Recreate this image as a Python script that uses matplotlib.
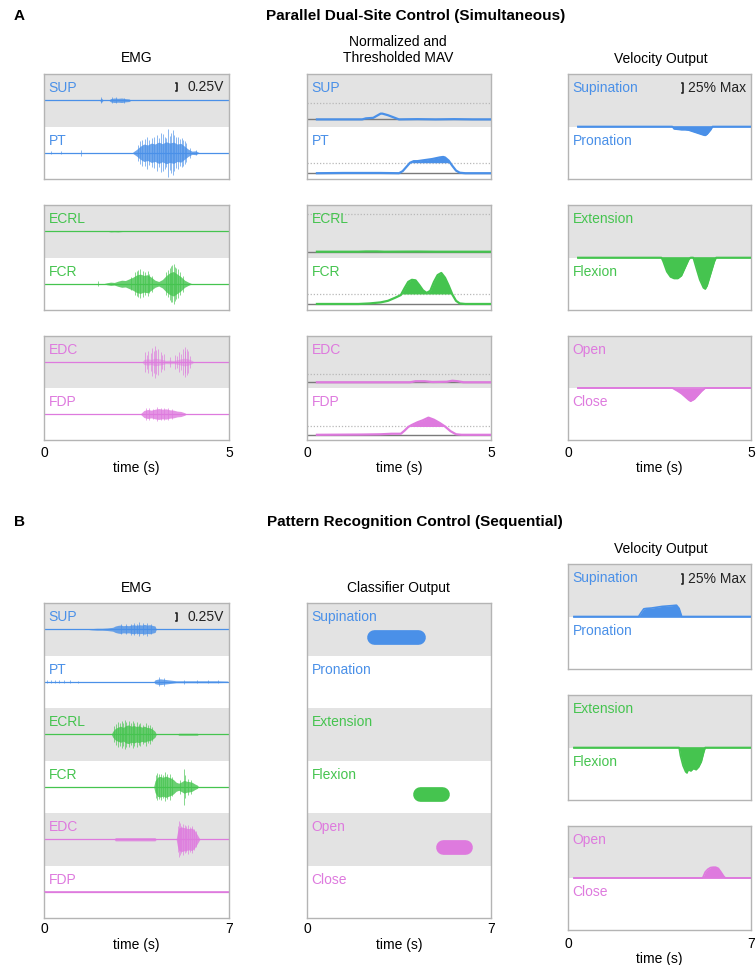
import numpy as np
import matplotlib.pyplot as plt
from matplotlib.transforms import blended_transform_factory

plt.rcParams['font.family'] = ['Liberation Sans', 'DejaVu Sans']

# ---------------- data ----------------
# panel A, raw EMG (time s, amplitude V): dense envelope + single spikes
sup_a_env_t = [1.50, 1.55, 1.60, 1.75, 1.80, 1.90, 2.00, 2.10, 2.20, 2.30, 2.35]
sup_a_env_v = [0.00, 0.07, 0.00, 0.00, 0.05, 0.07, 0.06, 0.07, 0.05, 0.04, 0.00]
sup_a_spk_t = [1.55, 1.85, 1.95, 2.15]
sup_a_spk_v = [0.10, 0.09, 0.10, 0.08]

pt_a_env_t = [2.40, 2.50, 2.60, 2.70, 2.80, 2.90, 3.00, 3.10, 3.20, 3.30, 3.40, 3.50,
              3.60, 3.70, 3.80, 3.90, 4.00, 4.10, 4.20]
pt_a_env_v = [0.02, 0.10, 0.20, 0.27, 0.24, 0.30, 0.27, 0.33, 0.28, 0.34, 0.30, 0.33,
              0.27, 0.29, 0.20, 0.11, 0.05, 0.06, 0.00]
pt_a_spk_t = [0.20, 0.45, 1.00, 2.55, 2.60, 2.65, 2.72, 2.78, 2.85, 2.92, 2.98, 3.05, 3.10,
              3.15, 3.22, 3.27, 3.31, 3.35, 3.40, 3.44, 3.48, 3.52, 3.57, 3.62, 3.67, 3.72,
              3.77, 3.80, 3.85, 3.95, 4.10]
pt_a_spk_v = [0.04, 0.04, 0.10, 0.25, 0.35, 0.40, 0.42, 0.50, 0.38, 0.45, 0.48, 0.55, 0.45,
              0.60, 0.58, 0.50, 0.45, 0.75, 0.52, 0.62, 0.70, 0.55, 0.48, 0.50, 0.42, 0.45,
              0.40, 0.35, 0.30, 0.15, 0.08]

ecrl_a_env_t = [1.70, 1.80, 1.90, 2.00, 2.10, 2.20]
ecrl_a_env_v = [0.00, 0.02, 0.015, 0.02, 0.01, 0.00]
ecrl_a_spk_t = []
ecrl_a_spk_v = []

fcr_a_env_t = [1.60, 1.70, 1.80, 1.90, 2.00, 2.10, 2.20, 2.30, 2.40, 2.50, 2.60, 2.70,
               2.80, 2.90, 3.00, 3.10, 3.20, 3.30, 3.40, 3.50, 3.60, 3.70, 3.80, 3.90, 4.00]
fcr_a_env_v = [0.00, 0.03, 0.05, 0.04, 0.08, 0.11, 0.10, 0.15, 0.20, 0.27, 0.30, 0.26,
               0.28, 0.20, 0.11, 0.07, 0.13, 0.25, 0.34, 0.38, 0.30, 0.22, 0.11, 0.05, 0.00]
fcr_a_spk_t = [1.47, 2.35, 2.45, 2.50, 2.55, 2.60, 2.68, 2.73, 2.80, 2.85, 2.92, 3.30, 3.35,
               3.40, 3.43, 3.47, 3.52, 3.55, 3.58, 3.62, 3.68, 3.75]
fcr_a_spk_v = [0.08, 0.20, 0.35, 0.38, 0.42, 0.45, 0.40, 0.35, 0.38, 0.30, 0.25, 0.35, 0.42,
               0.50, 0.55, 0.58, 0.62, 0.52, 0.48, 0.45, 0.35, 0.25]

edc_a_env_t = [2.65, 2.70, 2.80, 2.90, 3.00, 3.10, 3.20, 3.30, 3.40, 3.50, 3.60, 3.70,
               3.80, 3.90, 4.00, 4.05]
edc_a_env_v = [0.00, 0.08, 0.10, 0.08, 0.12, 0.10, 0.08, 0.05, 0.06, 0.05, 0.07, 0.10,
               0.12, 0.10, 0.05, 0.00]
edc_a_spk_t = [2.72, 2.78, 2.82, 2.88, 2.92, 2.96, 3.00, 3.04, 3.08, 3.15, 3.20, 3.25, 3.40,
               3.55, 3.60, 3.65, 3.70, 3.75, 3.80, 3.82, 3.86, 3.90, 3.95]
edc_a_spk_v = [0.30, 0.22, 0.35, 0.28, 0.45, 0.35, 0.50, 0.38, 0.42, 0.30, 0.22, 0.25, 0.15,
               0.22, 0.20, 0.30, 0.25, 0.42, 0.35, 0.48, 0.40, 0.35, 0.20]

fdp_a_env_t = [2.60, 2.70, 2.80, 2.90, 3.00, 3.10, 3.20, 3.30, 3.40, 3.50, 3.60, 3.70, 3.80, 3.85]
fdp_a_env_v = [0.00, 0.11, 0.14, 0.12, 0.15, 0.17, 0.15, 0.16, 0.13, 0.12, 0.09, 0.08, 0.04, 0.00]
fdp_a_spk_t = [2.75, 2.85, 2.95, 3.05, 3.15, 3.25, 3.35, 3.45]
fdp_a_spk_v = [0.18, 0.20, 0.17, 0.22, 0.19, 0.20, 0.18, 0.16]

# panel A, normalized MAV (band units above the zero line) and thresholds
sup_mav_t = [0.27, 1.50, 1.60, 1.80, 1.90, 2.00, 2.05, 2.20, 2.35, 2.50, 3.00, 3.50, 4.00, 4.50, 5.00]
sup_mav_v = [0.00, 0.00, 0.02, 0.03, 0.07, 0.11, 0.11, 0.08, 0.04, 0.00, 0.005, 0.00, 0.005, 0.00, 0.00]
pt_mav_t = [0.27, 1.00, 2.00, 2.50, 2.60, 2.70, 2.80, 2.90, 3.00, 3.20, 3.40, 3.60, 3.70,
            3.75, 3.85, 3.95, 4.05, 4.15, 4.30, 5.00]
pt_mav_v = [0.00, 0.005, 0.005, 0.00, 0.04, 0.12, 0.20, 0.23, 0.23, 0.25, 0.27, 0.30, 0.31,
            0.30, 0.24, 0.14, 0.05, 0.01, 0.00, 0.00]
ecrl_mav_t = [0.27, 1.40, 1.60, 1.90, 2.10, 3.00, 3.50, 5.00]
ecrl_mav_v = [0.00, 0.00, 0.005, 0.005, 0.00, 0.003, 0.00, 0.00]
fcr_mav_t = [0.27, 1.40, 1.70, 2.00, 2.20, 2.40, 2.55, 2.65, 2.75, 2.85, 2.95, 3.05, 3.15,
             3.25, 3.35, 3.45, 3.55, 3.65, 3.75, 3.85, 3.95, 4.05, 4.15, 4.30, 5.00]
fcr_mav_v = [0.00, 0.00, 0.01, 0.03, 0.06, 0.12, 0.17, 0.30, 0.42, 0.46, 0.45, 0.36, 0.26,
             0.21, 0.25, 0.42, 0.55, 0.59, 0.50, 0.35, 0.18, 0.06, 0.01, 0.00, 0.00]
edc_mav_t = [0.27, 2.80, 2.95, 3.20, 3.40, 3.80, 3.95, 4.10, 4.25, 5.00]
edc_mav_v = [0.00, 0.00, 0.02, 0.02, 0.005, 0.01, 0.03, 0.02, 0.00, 0.00]
fdp_mav_t = [0.27, 1.50, 2.00, 2.30, 2.55, 2.65, 2.75, 2.85, 3.00, 3.15, 3.30, 3.45, 3.60,
             3.75, 3.90, 4.05, 4.20, 5.00]
fdp_mav_v = [0.00, 0.005, 0.01, 0.02, 0.02, 0.08, 0.15, 0.19, 0.24, 0.28, 0.33, 0.29, 0.23,
             0.16, 0.07, 0.01, 0.00, 0.00]
mav_zero = [0.135, 0.11, 0.11, 0.115, 0.11, 0.10]      # SUP, PT, ECRL, FCR, EDC, FDP
mav_thresh = [0.32, 0.20, 0.72, 0.19, 0.16, 0.16]

# panel A, velocity output (% of max)
pro_vel_t = [0.27, 2.85, 2.90, 3.00, 3.10, 3.20, 3.30, 3.40, 3.50, 3.60, 3.70, 3.75, 3.80, 3.90, 3.95, 5.00]
pro_vel_v = [0, 0, -6, -7, -8, -8, -9, -12, -15, -18, -21, -22, -19, -8, 0, 0]
flex_vel_t = [0.27, 2.55, 2.60, 2.70, 2.80, 2.90, 3.00, 3.10, 3.20, 3.30, 3.35, 3.42, 3.50,
              3.60, 3.70, 3.75, 3.80, 3.90, 4.00, 4.05, 5.00]
flex_vel_v = [0, 0, -10, -35, -48, -52, -52, -45, -25, -5, 0, 0, -25, -55, -75, -78, -70, -40, -10, 0, 0]
close_vel_t = [0.27, 2.85, 3.00, 3.10, 3.20, 3.30, 3.35, 3.45, 3.55, 3.65, 3.75, 5.00]
close_vel_v = [0, 0, -8, -14, -22, -30, -33, -28, -18, -8, 0, 0]

# panel B, raw EMG
sup_b_env_t = [1.60, 1.80, 2.00, 2.20, 2.40, 2.60, 2.70, 2.80, 2.90, 3.00, 3.10, 3.20, 3.30,
               3.40, 3.50, 3.60, 3.70, 3.80, 3.90, 4.00, 4.10, 4.20, 4.25]
sup_b_env_v = [0.00, 0.02, 0.03, 0.03, 0.04, 0.06, 0.10, 0.12, 0.13, 0.11, 0.12, 0.11, 0.13,
               0.14, 0.12, 0.14, 0.13, 0.15, 0.13, 0.14, 0.12, 0.10, 0.00]
sup_b_spk_t = [2.90, 3.10, 3.30, 3.40, 3.50, 3.60, 3.75, 3.90, 4.05]
sup_b_spk_v = [0.16, 0.15, 0.17, 0.19, 0.16, 0.21, 0.18, 0.20, 0.16]

pt_b_env_t = [4.15, 4.20, 4.30, 4.40, 4.50, 4.60, 4.70, 4.80, 4.90, 5.00, 5.50, 6.00, 6.50, 6.95]
pt_b_env_v = [0.00, 0.06, 0.08, 0.09, 0.08, 0.07, 0.06, 0.05, 0.04, 0.03, 0.03, 0.03, 0.03, 0.02]
pt_b_spk_t = [0.10, 0.25, 0.40, 0.55, 0.75, 1.00, 1.30, 4.35, 4.55, 5.30, 5.80, 6.20, 6.60]
pt_b_spk_v = [0.05, 0.04, 0.05, 0.04, 0.05, 0.04, 0.03, 0.14, 0.12, 0.06, 0.05, 0.05, 0.04]

ecrl_b_env_t = [2.55, 2.60, 2.70, 2.80, 2.90, 3.00, 3.10, 3.20, 3.30, 3.40, 3.50, 3.60, 3.70,
                3.80, 3.90, 4.00, 4.10, 4.20, 4.25, 5.05, 5.10, 5.80, 5.85]
ecrl_b_env_v = [0.00, 0.09, 0.18, 0.22, 0.25, 0.21, 0.27, 0.29, 0.25, 0.27, 0.24, 0.26, 0.22,
                0.25, 0.21, 0.20, 0.16, 0.09, 0.00, 0.00, 0.03, 0.03, 0.00]
ecrl_b_spk_t = [2.65, 2.72, 2.80, 2.88, 2.95, 3.00, 3.05, 3.12, 3.20, 3.28, 3.35, 3.42, 3.50,
                3.58, 3.65, 3.75, 3.85, 3.92, 4.00, 4.10]
ecrl_b_spk_v = [0.25, 0.32, 0.38, 0.35, 0.42, 0.36, 0.45, 0.38, 0.40, 0.34, 0.42, 0.36, 0.38,
                0.33, 0.36, 0.30, 0.35, 0.28, 0.30, 0.22]

fcr_b_env_t = [4.15, 4.20, 4.30, 4.40, 4.50, 4.60, 4.70, 4.80, 4.90, 5.00, 5.10, 5.20, 5.30,
               5.40, 5.50, 5.60, 5.70, 5.80, 5.85]
fcr_b_env_v = [0.00, 0.18, 0.30, 0.32, 0.29, 0.33, 0.30, 0.27, 0.22, 0.14, 0.11, 0.15, 0.20,
               0.17, 0.16, 0.14, 0.09, 0.05, 0.00]
fcr_b_spk_t = [4.22, 4.28, 4.35, 4.42, 4.50, 4.58, 4.66, 4.75, 4.85, 5.15, 5.28, 5.35, 5.45, 5.55]
fcr_b_spk_v = [0.35, 0.42, 0.38, 0.40, 0.36, 0.45, 0.38, 0.40, 0.30, 0.22, 0.55, 0.35, 0.25, 0.22]

edc_b_env_t = [2.65, 2.70, 3.00, 3.50, 4.00, 4.20, 4.25, 5.00, 5.05, 5.10, 5.20, 5.30, 5.40,
               5.50, 5.60, 5.70, 5.80, 5.90]
edc_b_env_v = [0.00, 0.05, 0.05, 0.05, 0.05, 0.05, 0.00, 0.00, 0.22, 0.35, 0.38, 0.36, 0.34,
               0.33, 0.35, 0.27, 0.14, 0.00]
edc_b_spk_t = [5.08, 5.10, 5.15, 5.20, 5.25, 5.32, 5.38, 5.45, 5.52, 5.60, 5.68, 5.75]
edc_b_spk_v = [0.40, 0.55, 0.50, 0.42, 0.48, 0.44, 0.40, 0.45, 0.38, 0.42, 0.32, 0.25]

fdp_b_env_t = [0.00, 7.00]
fdp_b_env_v = [0.01, 0.01]
fdp_b_spk_t = []
fdp_b_spk_v = []

# panel B, classifier output
cls_names = ['Supination', 'Pronation', 'Extension', 'Flexion', 'Open', 'Close']
cls_active = ['Supination', 'Flexion', 'Open']
cls_start = [2.27, 4.02, 4.90]
cls_end = [4.51, 5.41, 6.30]

# panel B, velocity output (% of max)
sup_velB_t = [0.23, 2.70, 2.80, 2.90, 3.00, 3.20, 3.40, 3.60, 3.80, 4.00, 4.15, 4.25, 4.35, 7.00]
sup_velB_v = [0, 0, 10, 19, 20, 21, 23, 25, 26, 27, 28, 20, 0, 0]
flex_velB_t = [0.23, 4.25, 4.30, 4.40, 4.50, 4.55, 4.60, 4.70, 4.80, 4.90, 5.00, 5.10, 5.20, 5.25, 7.00]
flex_velB_v = [0, 0, -20, -45, -60, -63, -55, -58, -52, -55, -48, -35, -10, 0, 0]
open_velB_t = [0.23, 5.15, 5.25, 5.35, 5.45, 5.55, 5.65, 5.75, 5.85, 5.95, 6.02, 7.00]
open_velB_v = [0, 0, 15, 22, 26, 27, 27, 24, 15, 5, 0, 0]

# ---------------- style ----------------
BLUE = '#4a90e8'
GREEN = '#45c44f'
PINK = '#de7ade'
BAND = '#e3e3e3'
SPINE = '#b4b4b4'
FS = 10
K_EMG = 0.615     # band units per volt
K_VEL = 0.0077    # band units per % max

W, H = 756, 965
fig = plt.figure(figsize=(W / 100, H / 100), dpi=100)


def add_ax(l, t, r, b, T, nb):
    ax = fig.add_axes([l / W, 1 - b / H, (r - l) / W, (b - t) / H])
    for s in ax.spines.values():
        s.set_color(SPINE)
        s.set_linewidth(1.0)
    ax.set_xticks([])
    ax.set_yticks([])
    ax.set_xlim(0, T)
    ax.set_ylim(0, nb)
    for k in range(nb - 1, -1, -2):
        ax.axhspan(k, k + 1, color=BAND, lw=0, zorder=0)
    return ax


def ftext(x, y, s, **kw):
    fig.text(x / W, 1 - y / H, s, **kw)


def band_label(ax, top, s, color):
    tr = blended_transform_factory(ax.transAxes, ax.transData)
    ax.text(0.025, top - 0.27, s, color=color, fontsize=FS, va='center', ha='left', transform=tr)


def scale_bar(ax, y, h, xb, s):
    tr = blended_transform_factory(ax.transAxes, ax.transData)
    ax.plot([xb - 0.008, xb, xb, xb - 0.008], [y - h / 2, y - h / 2, y + h / 2, y + h / 2],
            color='#222222', lw=1.2, transform=tr, clip_on=False)
    ax.text(0.975, y, s, fontsize=FS, color='#222222', va='center', ha='right', transform=tr)


def time_axis(ax, T, pad):
    ax.set_xticks([0, T])
    ax.set_xticklabels(['0', str(T)])
    ax.tick_params(axis='x', length=0, pad=pad, labelsize=FS)
    ax.set_xlabel('time (s)', fontsize=FS, labelpad=1)


def draw_emg(ax, base, T, color, et, ev, st, sv, alpha=0.8):
    ax.plot([0, T], [base, base], color=color, lw=0.9, zorder=2)
    ev = np.array(ev) * K_EMG
    ax.fill_between(et, base - ev, base + ev, color=color, lw=0, alpha=alpha, zorder=3)
    if len(st):
        sv = np.array(sv) * K_EMG
        ax.vlines(st, base - sv, base + sv, color=color, lw=0.7, alpha=0.65, zorder=3)


def draw_mav(ax, z0, thr, T, color, t, v):
    t = np.array(t)
    v = np.array(v)
    ax.plot([0, T], [z0, z0], color='#7a7a7a', lw=1.0, zorder=2)
    ax.plot([0, T], [z0 + thr, z0 + thr], color='#b8b8b8', lw=0.9, ls=(0, (1, 1.5)), zorder=2)
    ax.fill_between(t, z0 + thr, z0 + v, where=v > thr, interpolate=True, color=color, lw=0, zorder=3)
    ax.plot(t, z0 + v, color=color, lw=1.6, zorder=4)


def draw_vel(ax, z0, color, t, v):
    y = z0 + np.array(v) * K_VEL
    ax.fill_between(t, z0, y, color=color, lw=0, zorder=3)
    ax.plot(t, y, color=color, lw=1.2, zorder=4)


VL, VR = 568, 751   # velocity column edges (px)

# ---------------- panel A ----------------
ftext(14, 16, 'A', fontsize=11, fontweight='bold', va='center')
ftext(416, 16, 'Parallel Dual-Site Control (Simultaneous)', fontsize=11, fontweight='bold',
      ha='center', va='center')
ftext(137, 58, 'EMG', fontsize=FS, ha='center', va='center')
ftext(398, 50, 'Normalized and\nThresholded MAV', fontsize=FS, ha='center', va='center',
      linespacing=1.1)
ftext(661, 59, 'Velocity Output', fontsize=FS, ha='center', va='center')

groupsA = [(74, 179), (205, 310), (336, 440)]
colors = [BLUE, GREEN, PINK]
emgA = [
    [('SUP', sup_a_env_t, sup_a_env_v, sup_a_spk_t, sup_a_spk_v),
     ('PT', pt_a_env_t, pt_a_env_v, pt_a_spk_t, pt_a_spk_v)],
    [('ECRL', ecrl_a_env_t, ecrl_a_env_v, ecrl_a_spk_t, ecrl_a_spk_v),
     ('FCR', fcr_a_env_t, fcr_a_env_v, fcr_a_spk_t, fcr_a_spk_v)],
    [('EDC', edc_a_env_t, edc_a_env_v, edc_a_spk_t, edc_a_spk_v),
     ('FDP', fdp_a_env_t, fdp_a_env_v, fdp_a_spk_t, fdp_a_spk_v)],
]
mavA = [[(sup_mav_t, sup_mav_v), (pt_mav_t, pt_mav_v)],
        [(ecrl_mav_t, ecrl_mav_v), (fcr_mav_t, fcr_mav_v)],
        [(edc_mav_t, edc_mav_v), (fdp_mav_t, fdp_mav_v)]]
velA = [('Supination', 'Pronation', pro_vel_t, pro_vel_v),
        ('Extension', 'Flexion', flex_vel_t, flex_vel_v),
        ('Open', 'Close', close_vel_t, close_vel_v)]

for g, (top, bot) in enumerate(groupsA):
    c = colors[g]
    ax = add_ax(44, top, 229, bot, 5, 2)
    for j, (name, et, ev, st, sv) in enumerate(emgA[g]):
        base = 1.5 - j
        draw_emg(ax, base, 5, c, et, ev, st, sv, alpha=0.5 if name == 'EDC' else 0.8)
        band_label(ax, 2 - j, name, c)
    if g == 0:
        scale_bar(ax, 2 - 0.25, 0.25 * K_EMG, 0.719, '0.25V')
    if g == 2:
        time_axis(ax, 5, 4)

    ax = add_ax(307, top, 491, bot, 5, 2)
    for j, (t, v) in enumerate(mavA[g]):
        k = 2 * g + j
        draw_mav(ax, 1 - j + mav_zero[k], mav_thresh[k], 5, c, t, v)
        band_label(ax, 2 - j, emgA[g][j][0], c)
    if g == 2:
        time_axis(ax, 5, 4)

    ax = add_ax(VL, top, VR, bot, 5, 2)
    up, down, t, v = velA[g]
    ax.plot([0.27, 5], [1, 1], color=c, lw=1.2, zorder=2)
    draw_vel(ax, 1, c, t, v)
    band_label(ax, 2, up, c)
    band_label(ax, 1, down, c)
    if g == 0:
        scale_bar(ax, 2 - 0.27, 25 * K_VEL, 0.630, '25% Max')
    if g == 2:
        time_axis(ax, 5, 4)

# ---------------- panel B ----------------
ftext(14, 522, 'B', fontsize=11, fontweight='bold', va='center')
ftext(415, 522, 'Pattern Recognition Control (Sequential)', fontsize=11, fontweight='bold',
      ha='center', va='center')
ftext(137, 588, 'EMG', fontsize=FS, ha='center', va='center')
ftext(398, 588, 'Classifier Output', fontsize=FS, ha='center', va='center')
ftext(661, 549, 'Velocity Output', fontsize=FS, ha='center', va='center')

emgB = [('SUP', BLUE, sup_b_env_t, sup_b_env_v, sup_b_spk_t, sup_b_spk_v),
        ('PT', BLUE, pt_b_env_t, pt_b_env_v, pt_b_spk_t, pt_b_spk_v),
        ('ECRL', GREEN, ecrl_b_env_t, ecrl_b_env_v, ecrl_b_spk_t, ecrl_b_spk_v),
        ('FCR', GREEN, fcr_b_env_t, fcr_b_env_v, fcr_b_spk_t, fcr_b_spk_v),
        ('EDC', PINK, edc_b_env_t, edc_b_env_v, edc_b_spk_t, edc_b_spk_v),
        ('FDP', PINK, fdp_b_env_t, fdp_b_env_v, fdp_b_spk_t, fdp_b_spk_v)]

ax = add_ax(44, 603, 229, 918, 7, 6)
for i, (name, c, et, ev, st, sv) in enumerate(emgB):
    base = 6 - i - 0.5
    draw_emg(ax, base, 7, c, et, ev, st, sv)
    band_label(ax, 6 - i, name, c)
scale_bar(ax, 6 - 0.27, 0.25 * K_EMG, 0.719, '0.25V')
time_axis(ax, 7, 3)

ax = add_ax(307, 603, 491, 918, 7, 6)
cls_colors = [BLUE, BLUE, GREEN, GREEN, PINK, PINK]
for i, name in enumerate(cls_names):
    band_label(ax, 6 - i, name, cls_colors[i])
bar_lw = 10.6
cap = (bar_lw * 100 / 72 / 2) / (184 / 7)
for name, s, e in zip(cls_active, cls_start, cls_end):
    i = cls_names.index(name)
    y = 6 - i - 0.5 - 0.14
    ax.plot([s + cap, e - cap], [y, y], color=cls_colors[i], lw=bar_lw,
            solid_capstyle='round', zorder=3)
time_axis(ax, 7, 3)

groupsB = [(564, 669), (695, 800), (826, 930)]
velB = [('Supination', 'Pronation', sup_velB_t, sup_velB_v),
        ('Extension', 'Flexion', flex_velB_t, flex_velB_v),
        ('Open', 'Close', open_velB_t, open_velB_v)]
for g, (top, bot) in enumerate(groupsB):
    c = colors[g]
    ax = add_ax(VL, top, VR, bot, 7, 2)
    up, down, t, v = velB[g]
    ax.plot([0.23, 7], [1, 1], color=c, lw=1.2, zorder=2)
    draw_vel(ax, 1, c, t, v)
    band_label(ax, 2, up, c)
    band_label(ax, 1, down, c)
    if g == 0:
        scale_bar(ax, 2 - 0.28, 25 * K_VEL, 0.630, '25% Max')
    if g == 2:
        time_axis(ax, 7, 5)

fig.savefig('out.png', dpi=100)
